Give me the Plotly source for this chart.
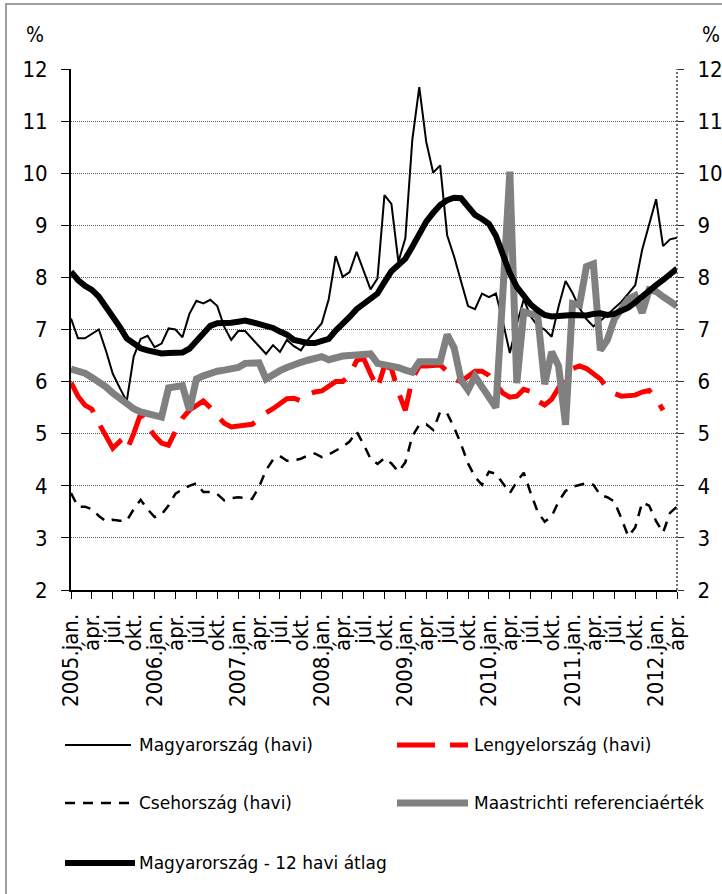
import plotly.graph_objects as go

# ---------------------------------------------------------------- data
years = list(range(2005, 2013))
month_names = ["jan.", "febr.", "márc.", "ápr.", "máj.", "jún.",
               "júl.", "aug.", "szept.", "okt.", "nov.", "dec."]

months = []        # category keys, 2005-01 ... 2012-04
month_labels = []  # axis text
for y in years:
    for m in range(12):
        if y == 2012 and m > 3:
            break
        months.append(f"{y}-{m + 1:02d}")
        month_labels.append((f"{y}." if m == 0 else "") + month_names[m])

hu_monthly = [
    7.21, 6.83, 6.83, 6.92, 7.00, 6.60, 6.15, 5.88, 5.62, 6.48, 6.82, 6.88,
    6.66, 6.73, 7.02, 7.00, 6.85, 7.30, 7.55, 7.50, 7.57, 7.45, 7.05, 6.80,
    6.97, 6.97, 6.82, 6.66, 6.53, 6.70, 6.57, 6.80, 6.68, 6.60, 6.80, 6.96,
    7.12, 7.58, 8.41, 8.01, 8.10, 8.49, 8.14, 7.77, 7.98, 9.58, 9.41, 8.30,
    8.75, 10.64, 11.65, 10.60, 10.01, 10.15, 8.81, 8.40, 7.92, 7.45, 7.39, 7.69,
    7.62, 7.69, 7.15, 6.55, 7.10, 7.58, 7.25, 7.07, 7.00, 6.86, 7.44, 7.93,
    7.70, 7.41, 7.20, 7.06, 7.17, 7.28, 7.41, 7.53, 7.69, 7.85, 8.53, 9.00,
    9.50, 8.60, 8.73, 8.76,
]

pl_monthly = [
    5.98, 5.72, 5.55, 5.47, 5.20, 4.97, 4.72, 4.85, 4.68, 5.00, 5.38, 5.15,
    4.96, 4.82, 4.78, 5.05, 5.30, 5.45, 5.55, 5.63, 5.50, 5.35, 5.20, 5.13,
    5.15, 5.17, 5.18, 5.28, 5.40, 5.48, 5.58, 5.67, 5.68, 5.63, 5.75, 5.80,
    5.82, 5.92, 6.00, 6.00, 6.12, 6.40, 6.45, 6.15, 5.87, 6.30, 6.25, 5.80,
    5.45, 6.05, 6.30, 6.30, 6.30, 6.32, 6.20, 6.05, 6.00, 6.10, 6.20, 6.20,
    6.12, 5.95, 5.78, 5.70, 5.72, 5.85, 5.81, 5.63, 5.55, 5.66, 5.90, 6.10,
    6.25, 6.30, 6.25, 6.16, 6.05, 5.87, 5.77, 5.72, 5.72, 5.74, 5.80, 5.83,
    5.68, 5.45, None, None,
]

cz_monthly = [
    3.86, 3.60, 3.60, 3.55, 3.42, 3.32, 3.35, 3.33, 3.33, 3.55, 3.73, 3.55,
    3.40, 3.45, 3.62, 3.85, 3.93, 4.00, 4.05, 3.88, 3.88, 3.84, 3.72, 3.76,
    3.78, 3.76, 3.75, 3.98, 4.30, 4.50, 4.57, 4.48, 4.49, 4.52, 4.58, 4.62,
    4.55, 4.60, 4.68, 4.75, 4.85, 5.04, 4.80, 4.52, 4.42, 4.53, 4.43, 4.27,
    4.45, 4.95, 5.17, 5.18, 5.07, 5.42, 5.39, 5.12, 4.80, 4.43, 4.17, 4.02,
    4.27, 4.23, 4.05, 3.86, 4.08, 4.25, 3.86, 3.50, 3.31, 3.41, 3.70, 3.90,
    3.98, 4.02, 4.05, 4.02, 3.82, 3.78, 3.70, 3.38, 3.03, 3.20, 3.68, 3.62,
    3.32, 3.10, 3.48, 3.60,
]

maastricht_ref = [
    6.24, 6.20, 6.16, 6.08, 6.00, 5.90, 5.78, 5.68, 5.57, 5.48, 5.42, 5.38,
    5.35, 5.32, 5.88, 5.89, 5.92, 5.45, 6.05, 6.11, 6.17, 6.20, 6.22, 6.25,
    6.27, 6.35, 6.36, 6.36, 6.05, 6.15, 6.21, 6.27, 6.33, 6.37, 6.41, 6.45,
    6.48, 6.42, 6.47, 6.49, 6.50, 6.51, 6.54, 6.53, 6.35, 6.33, 6.31, 6.27,
    6.22, 6.18, 6.38, 6.39, 6.38, 6.38, 6.90, 6.65, 6.03, 5.84, 6.10, 5.90,
    5.71, 5.50, 7.70, 10.03, 5.97, 7.34, 7.30, 7.27, 5.95, 6.57, 6.30, 5.17,
    7.50, 7.47, 8.21, 8.26, 6.60, 6.80, 7.20, 7.42, 7.58, 7.65, 7.32, 7.76,
    7.73, 7.63, 7.53, 7.45,
]

hu_12m_avg = [
    8.11, 7.95, 7.84, 7.76, 7.63, 7.45, 7.25, 7.05, 6.83, 6.72, 6.64, 6.60,
    6.56, 6.54, 6.55, 6.55, 6.56, 6.63, 6.78, 6.95, 7.07, 7.12, 7.12, 7.13,
    7.15, 7.17, 7.14, 7.11, 7.08, 7.03, 6.96, 6.90, 6.80, 6.76, 6.74, 6.74,
    6.78, 6.82, 6.98, 7.10, 7.24, 7.39, 7.50, 7.58, 7.69, 7.91, 8.12, 8.24,
    8.36, 8.59, 8.85, 9.07, 9.24, 9.39, 9.48, 9.53, 9.52, 9.35, 9.20, 9.12,
    9.03, 8.80, 8.42, 8.08, 7.82, 7.64, 7.48, 7.37, 7.28, 7.25, 7.25, 7.27,
    7.28, 7.27, 7.27, 7.30, 7.31, 7.28, 7.30, 7.36, 7.42, 7.52, 7.64, 7.74,
    7.85, 7.95, 8.05, 8.17,
]

series_names = [
    "Magyarország (havi)",
    "Lengyelország (havi)",
    "Csehország (havi)",
    "Maastrichti referenciaérték",
    "Magyarország - 12 havi átlag",
]

y_ticks = list(range(2, 13))

# --------------------------------------------------------------- styles
W, H = 722, 894
L, R, T, B = 71, 677, 69, 590          # plot area in pixels

styles = {
    series_names[0]: dict(color="black", width=2),
    series_names[1]: dict(color="#ff0000", width=5, dash="38px,15px"),
    series_names[2]: dict(color="black", width=2.5, dash="10px,8px"),
    series_names[3]: dict(color="#808080", width=7),
    series_names[4]: dict(color="black", width=6),
}
values = {
    series_names[0]: hu_monthly,
    series_names[1]: pl_monthly,
    series_names[2]: cz_monthly,
    series_names[3]: maastricht_ref,
    series_names[4]: hu_12m_avg,
}


def px_x(px):
    return (px - L) / (R - L)


def px_y(py):
    return (B - py) / (B - T)


LABEL_FONT = "DejaVu Sans Condensed, Liberation Sans Narrow, DejaVu Sans, sans-serif"
LEGEND_FONT = "DejaVu Sans, Verdana, sans-serif"
NUM_FONT = "Liberation Sans Narrow, DejaVu Sans Condensed, Liberation Sans, sans-serif"

fig = go.Figure()
for name in series_names:
    fig.add_trace(go.Scatter(
        x=months, y=values[name], name=name, mode="lines",
        line=styles[name], showlegend=False, connectgaps=False,
    ))

# invisible trace to carry the right-hand axis
fig.add_trace(go.Scatter(x=[months[0]], y=[None], yaxis="y2",
                         showlegend=False, hoverinfo="skip"))

fig.update_layout(
    width=W, height=H,
    margin=dict(l=L, r=W - R, t=T, b=H - B, pad=0),
    paper_bgcolor="white", plot_bgcolor="white",
    showlegend=False,
    xaxis=dict(
        type="category", categoryorder="array", categoryarray=months,
        range=[0, len(months) - 1],
        tickmode="array", tickvals=months[::3], ticktext=month_labels[::3],
        tickangle=-90, ticks="outside", ticklen=7, tickcolor="black",
        tickfont=dict(family=LABEL_FONT, size=22, color="black"),
        showline=True, linecolor="black", linewidth=2,
        showgrid=False, zeroline=False, automargin=False,
        ticklabelstandoff=6,
    ),
    yaxis=dict(
        range=[2, 12], tickmode="array", tickvals=y_ticks,
        ticks="outside", ticklen=8, tickcolor="black",
        tickfont=dict(family=NUM_FONT, size=22, color="black"),
        showline=True, linecolor="black", linewidth=2,
        showgrid=True, gridcolor="#5a5a5a", griddash="1px,1px", gridwidth=1,
        zeroline=False, automargin=False, ticklabelstandoff=9,
    ),
    yaxis2=dict(
        range=[2, 12], overlaying="y", side="right",
        tickmode="array", tickvals=y_ticks,
        ticks="outside", ticklen=6, tickcolor="#333333",
        tickfont=dict(family=NUM_FONT, size=22, color="black"),
        showline=False, showgrid=False, zeroline=False, automargin=False,
        ticklabelstandoff=9,
    ),
)

shapes = [
    # outer frame
    dict(type="rect", xref="paper", yref="paper",
         x0=px_x(6), x1=px_x(760), y0=px_y(930), y1=px_y(4),
         line=dict(color="#7f7f7f", width=1.5), fillcolor="rgba(0,0,0,0)",
         layer="below"),
    # right-hand axis line
    dict(type="line", xref="paper", yref="paper", x0=1, x1=1, y0=0, y1=1,
         line=dict(color="#444444", width=1.5, dash="2px,2px")),
]

annotations = [
    dict(text="%", xref="paper", yref="paper", x=px_x(35), y=px_y(35),
         xanchor="center", yanchor="middle", showarrow=False,
         font=dict(family=NUM_FONT, size=21, color="black")),
    dict(text="%", xref="paper", yref="paper", x=px_x(711), y=px_y(35),
         xanchor="center", yanchor="middle", showarrow=False,
         font=dict(family=NUM_FONT, size=21, color="black")),
]

# legend block below the plot: (series, line start, line end, text x, row y)
legend_rows = [
    (series_names[0], 65, 131, 137, 745),
    (series_names[1], 397, 468, 472, 745),
    (series_names[2], 65, 133, 137, 803),
    (series_names[3], 397, 468, 472, 803),
    (series_names[4], 65, 135, 137, 863),
]
for name, xa, xb, xt, yr in legend_rows:
    shapes.append(dict(type="line", xref="paper", yref="paper",
                       x0=px_x(xa), x1=px_x(xb), y0=px_y(yr), y1=px_y(yr),
                       line=styles[name]))
    annotations.append(dict(text=name, xref="paper", yref="paper",
                            x=px_x(xt), y=px_y(yr), xanchor="left",
                            yanchor="middle", showarrow=False,
                            font=dict(family=LEGEND_FONT, size=17,
                                      color="black")))

fig.update_layout(shapes=shapes, annotations=annotations)

fig.write_html("out.html")
